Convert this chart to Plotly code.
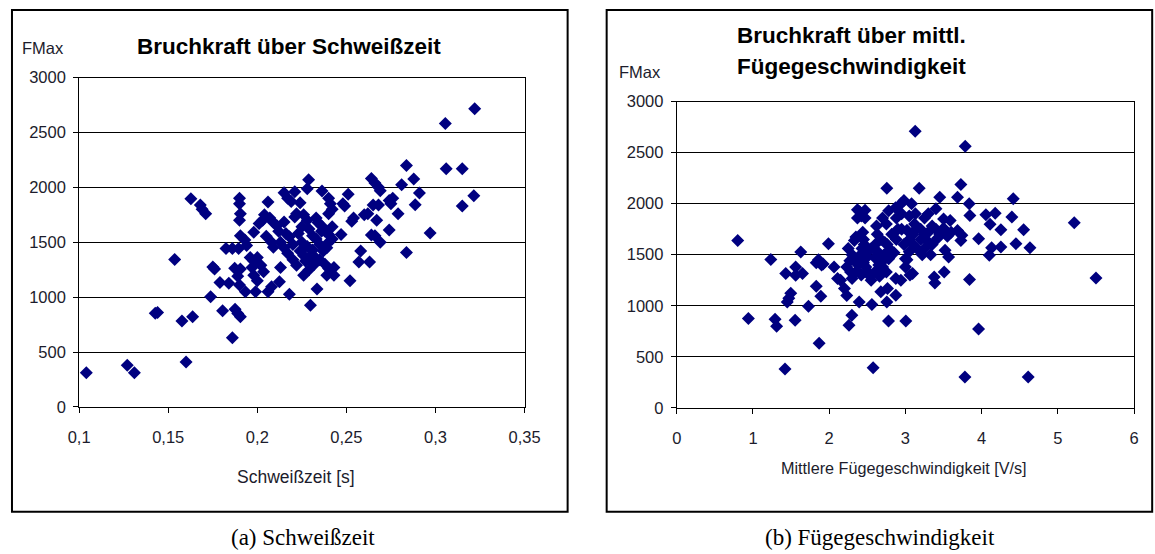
import plotly.graph_objects as go

# Layout positions below are given in screen pixels of the finished page;
# the page shows the figure with a small offset and scale, which these
# constants undo when converting to the figure's own pixel space.
PAGE_X0, PAGE_SX = 10.9, 0.976
PAGE_Y0, PAGE_SY = 8.3, 0.970
W, H = 1170, 563

# ---- data: Bruchkraft über Schweißzeit ----
schweisszeit = [
    0.104, 0.127, 0.131, 0.1427, 0.144, 0.1536, 0.1577, 0.160, 0.1637, 0.1627,
    0.168, 0.169, 0.171, 0.1738, 0.175, 0.176, 0.179, 0.1805, 0.1824, 0.186,
    0.1875, 0.189, 0.1905, 0.186, 0.1895, 0.1873, 0.189, 0.1905, 0.184, 0.190,
    0.190, 0.190, 0.1905, 0.190, 0.1905, 0.193, 0.194, 0.1933, 0.199, 0.196,
    0.198, 0.197, 0.198, 0.200, 0.2035, 0.201, 0.198, 0.206, 0.204, 0.207,
    0.209, 0.205, 0.208, 0.209, 0.213, 0.2124, 0.208, 0.206, 0.218, 0.215,
    0.217, 0.219, 0.221, 0.215, 0.221, 0.211, 0.216, 0.215, 0.217, 0.220,
    0.222, 0.2288, 0.228, 0.2363, 0.2298, 0.2335, 0.226, 0.228, 0.225, 0.223,
    0.229, 0.231, 0.225, 0.228, 0.231, 0.230, 0.227, 0.229, 0.226, 0.232,
    0.238, 0.240, 0.240, 0.239, 0.240, 0.241, 0.240, 0.238, 0.240, 0.239,
    0.234, 0.236, 0.233, 0.235, 0.243, 0.243, 0.242, 0.242, 0.242, 0.247,
    0.248, 0.249, 0.251, 0.253, 0.254, 0.252, 0.258, 0.257, 0.263, 0.264,
    0.266, 0.265, 0.268, 0.260, 0.262, 0.267, 0.264, 0.266, 0.268, 0.269,
    0.269, 0.274, 0.275, 0.276, 0.274, 0.279, 0.281, 0.2837, 0.2878, 0.291,
    0.2886, 0.2837, 0.297, 0.3055, 0.306, 0.315, 0.3215, 0.315, 0.322,
    0.212, 0.218, 0.220, 0.224, 0.226, 0.233, 0.236, 0.237, 0.232, 0.235,
    0.222, 0.224, 0.213, 0.200, 0.202, 0.203,
]
fmax_zeit = [
    310, 380, 310, 852, 860, 1343, 782, 410, 821, 1897,
    1840, 1800, 1760, 1003, 1275, 1255, 1133, 875, 1443, 630,
    890, 850, 820, 1443, 1443, 1264, 1190, 1255, 1127, 1110,
    1900, 1850, 1760, 1700, 1560, 1520, 1470, 1048, 1048, 1360,
    1330, 1270, 1200, 1150, 1230, 1670, 1590, 1866, 1750, 1720,
    1680, 1555, 1500, 1455, 1270, 1140, 1094, 1048, 1027, 1950,
    1900, 1870, 1960, 1685, 1730, 1650, 1580, 1450, 1400, 1340,
    1290, 2070, 1988, 1966, 927, 1073, 1750, 1700, 1640, 1580,
    1620, 1560, 1500, 1460, 1430, 1380, 1330, 1250, 1200, 1300,
    1600, 1570, 1500, 1450, 1900, 1850, 1760, 1300, 1260, 1200,
    1680, 1650, 1530, 1480, 1270, 1200, 1800, 1640, 1530, 1570,
    1850, 1830, 1936, 1690, 1720, 1148, 1420, 1320, 1320, 1565,
    1560, 1840, 1840, 1750, 1760, 1700, 2080, 2040, 2000, 1970,
    1500, 1612, 1850, 1900, 1880, 1760, 2024, 2200, 2075, 1948,
    1842, 1406, 1585, 2582, 2170, 2170, 1924, 1830, 2715,
    1600, 1550, 1480, 1420, 1380, 1720, 1600, 1420, 1370, 1340,
    1760, 1860, 1500, 1360, 1290, 1700,
]

# ---- data: Bruchkraft über mittlere Fügegeschwindigkeit ----
fuegegeschw = [
    0.8, 0.94, 1.234, 1.29, 1.31, 1.42, 1.43, 1.45, 1.47, 1.496,
    1.553, 1.56, 1.56, 1.627, 1.65, 1.728, 1.83, 1.868, 1.89, 1.83,
    1.86, 1.9, 1.92, 1.99, 2.064, 2.11, 2.15, 2.2, 2.23, 2.23,
    2.28, 2.3, 2.26, 2.297, 2.393, 2.56, 2.576, 2.756, 2.778, 2.677,
    2.765, 2.874, 2.874, 2.94, 3.005, 3.093, 3.128, 3.18, 2.756, 3.377,
    3.386, 3.45, 3.508, 3.52, 3.566, 3.587, 3.683, 3.683, 3.727, 3.727,
    3.74, 3.78, 3.784, 3.836, 3.845, 3.959, 3.96, 4.055, 4.1, 4.11,
    4.13, 4.177, 4.252, 4.252, 4.396, 4.414, 4.449, 4.55, 4.61, 4.633,
    5.214, 5.499, 3.84,
    2.35, 2.33, 2.37, 2.40, 2.47, 2.37, 2.47, 2.42, 2.44, 2.45,
    2.43, 2.41, 2.40, 2.38, 2.36, 2.42, 2.46, 2.47, 2.50, 2.45,
    2.48, 2.50, 2.52, 2.55, 2.55, 2.63, 2.68, 2.73, 2.76, 2.63,
    2.65, 2.72, 2.78, 2.68, 2.60, 2.70, 2.75, 2.88, 2.95, 2.78,
    2.87, 2.94, 2.98, 3.08, 2.60, 2.65, 2.70, 2.80, 2.85, 2.82,
    2.90, 2.88, 2.62, 2.58, 2.66, 2.75, 2.95, 3.02, 3.05, 2.98,
    3.05, 3.00, 3.10, 3.12, 3.15, 3.05, 3.13, 3.00, 3.10, 3.20,
    3.20, 3.25, 3.30, 3.35, 3.28, 3.40, 3.45, 3.50, 3.30, 3.40,
    3.50, 3.25, 3.35, 3.42, 3.55, 3.15, 3.22, 3.33, 3.60, 3.25,
    3.02, 3.06, 2.25, 2.30, 2.32, 2.27,
]
fmax_geschw = [
    1640, 876, 1452, 869, 800, 381, 1315, 1038, 1074, 1123,
    859, 1380, 1299, 1527, 1315, 996, 1191, 632, 1094, 1420,
    1450, 1400, 1410, 1608, 1380, 1266, 1250, 1170, 1100, 1380,
    1330, 1266, 810, 908, 1038, 1013, 394, 1038, 850, 1136,
    1169, 1104, 1266, 1250, 850, 1315, 2708, 2151, 2151, 1282,
    1224, 2063, 1331, 1543, 1478, 1836, 2063, 1738, 2188, 1640,
    1690, 303, 2562, 2000, 1885, 772, 1657, 1892, 1494, 1797,
    1569, 1907, 1745, 1575, 1868, 2048, 1608, 1745, 303, 1569,
    1813, 1273, 1257,
    1673, 1640, 1940, 1920, 1935, 1860, 1860, 1880, 1720, 1650,
    1560, 1500, 1450, 1400, 1340, 1300, 1600, 1530, 1480, 1420,
    1380, 1340, 1300, 1560, 1250, 1700, 1650, 1620, 1600, 1620,
    1520, 1500, 1460, 1420, 1470, 1860, 1800, 1860, 1900, 1930,
    1960, 2000, 2030, 2000, 1330, 1400, 1380, 1550, 1520, 1700,
    1750, 1650, 1780, 1560, 1290, 1330, 1750, 1740, 1650, 1600,
    1530, 1460, 1700, 1800, 1760, 1880, 1900, 1380, 1600, 1650,
    1750, 1700, 1720, 1780, 1640, 1750, 1700, 1760, 1900, 1950,
    1850, 1560, 1600, 1660, 1680, 1560, 1500, 1500, 1720, 1860,
    1450, 1300, 1560, 1500, 1450, 1440,
]

x_ticks_zeit = [0.1, 0.15, 0.2, 0.25, 0.3, 0.35]
x_labels_zeit = ["0,1", "0,15", "0,2", "0,25", "0,3", "0,35"]
x_ticks_geschw = [0, 1, 2, 3, 4, 5, 6]
x_labels_geschw = ["0", "1", "2", "3", "4", "5", "6"]
y_ticks = [0, 500, 1000, 1500, 2000, 2500, 3000]
y_labels = ["0", "500", "1000", "1500", "2000", "2500", "3000"]


def fx(sx):
    px = (sx - PAGE_X0) / PAGE_SX
    return min(max(px, 1.0), W - 1.0) / W


def fy(sy):
    py = (sy - PAGE_Y0) / PAGE_SY
    return 1 - min(max(py, 1.0), H - 1.0) / H


TXT = "#1c1c2c"
FONT = "Liberation Sans, Arial, sans-serif"
MARK = dict(symbol="diamond", size=10, color="#000080", line=dict(width=0))

fig = go.Figure()
fig.add_trace(go.Scatter(x=schweisszeit, y=fmax_zeit, mode="markers",
                         marker=MARK, xaxis="x", yaxis="y", showlegend=False))
fig.add_trace(go.Scatter(x=fuegegeschw, y=fmax_geschw, mode="markers",
                         marker=MARK, xaxis="x2", yaxis="y2", showlegend=False))

axis_common = dict(showline=True, linecolor="#000000", linewidth=1, mirror=True,
                   ticks="outside", ticklen=5, tickcolor="#000000",
                   zeroline=False, tickfont=dict(family=FONT, size=16.5, color=TXT))

fig.update_layout(
    width=W, height=H, autosize=False, margin=dict(l=0, r=0, t=0, b=0, pad=0),
    paper_bgcolor="white", plot_bgcolor="white",
    xaxis=dict(domain=[fx(79), fx(524)], range=[0.1, 0.35], anchor="y",
               tickvals=x_ticks_zeit, ticktext=x_labels_zeit, showgrid=False,
               ticklabelstandoff=10, **axis_common),
    yaxis=dict(domain=[fy(407), fy(77)], range=[0, 3000], anchor="x",
               tickvals=y_ticks, ticktext=y_labels, showgrid=True,
               gridcolor="#000000", gridwidth=1, ticklabelstandoff=4, **axis_common),
    xaxis2=dict(domain=[fx(676), fx(1133)], range=[0, 6], anchor="y2",
                tickvals=x_ticks_geschw, ticktext=x_labels_geschw, showgrid=False,
                ticklabelstandoff=10, **axis_common),
    yaxis2=dict(domain=[fy(408), fy(101)], range=[0, 3000], anchor="x2",
                tickvals=y_ticks, ticktext=y_labels, showgrid=True,
                gridcolor="#000000", gridwidth=1, ticklabelstandoff=4, **axis_common),
)

# outer chart frames
for x0, x1 in [(10, 567), (606, 1151)]:
    fig.add_shape(type="rect", xref="paper", yref="paper",
                  x0=fx(x0), x1=fx(x1), y0=fy(512), y1=fy(8),
                  line=dict(color="#000000", width=2), fillcolor="rgba(0,0,0,0)")


def label(text, x, y, size=16, bold=False, family=FONT, color=TXT, xanchor="center"):
    fig.add_annotation(text=f"<b>{text}</b>" if bold else text, x=fx(x), y=fy(y),
                       xref="paper", yref="paper", showarrow=False,
                       xanchor=xanchor, yanchor="middle",
                       font=dict(family=family, size=size, color=color))


# chart titles
label("Bruchkraft über Schweißzeit", 289, 46, size=22.5, bold=True, color="#000000")
label("Bruchkraft über mittl.", 851, 35, size=22.5, bold=True, color="#000000")
label("Fügegeschwindigkeit", 851, 66, size=22.5, bold=True, color="#000000")

# y-axis labels
label("FMax", 20, 47, size=16.5, xanchor="left")
label("FMax", 616, 71, size=16.5, xanchor="left")

# x-axis titles
label("Schweißzeit [s]", 296, 477, size=17.5)
label("Mittlere Fügegeschwindigkeit [V/s]", 903, 468, size=16.2)

# captions
SERIF = "Liberation Serif, Times New Roman, serif"
label("(a) Schweißzeit", 303, 538, size=23, family=SERIF, color="#000000")
label("(b) Fügegeschwindigkeit", 879, 538, size=23, family=SERIF, color="#000000")

fig.write_html("out.html", config={"responsive": False})
